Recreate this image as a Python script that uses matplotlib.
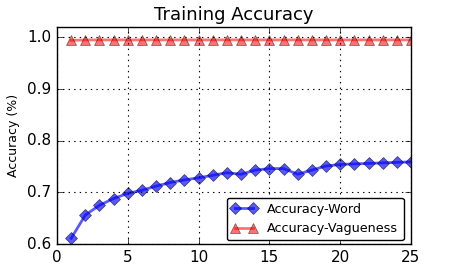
import matplotlib
matplotlib.use('Agg')
import matplotlib.pyplot as plt

epochs = list(range(1, 26))
acc_word = [0.611, 0.656, 0.675, 0.688, 0.698, 0.704, 0.712, 0.719, 0.724, 0.728,
            0.733, 0.738, 0.735, 0.743, 0.746, 0.746, 0.735, 0.743, 0.751, 0.754,
            0.755, 0.756, 0.757, 0.758, 0.759]
acc_vague = [0.994, 0.995, 0.995, 0.995, 0.995, 0.995, 0.995, 0.995, 0.995, 0.995,
             0.995, 0.995, 0.995, 0.995, 0.995, 0.995, 0.995, 0.995, 0.995, 0.995,
             0.995, 0.995, 0.995, 0.995, 0.995]

plt.style.use('classic')
fig = plt.figure(figsize=(4.57, 2.68), dpi=100, facecolor='white')
ax = fig.add_axes([57 / 457, 24 / 268, 354 / 457, 217 / 268])

ax.plot(epochs, acc_word, color='blue', marker='D', markersize=6.5, linewidth=2,
        alpha=0.65, label='Accuracy-Word')
ax.plot(epochs, acc_vague, color='red', marker='^', markersize=6.5, linewidth=2,
        alpha=0.55, label='Accuracy-Vagueness')

ax.set_xlim(0, 25)
ax.set_ylim(0.6, 1.02)
ax.set_xticks([0, 5, 10, 15, 20, 25])
ax.set_yticks([0.6, 0.7, 0.8, 0.9, 1.0])
ax.tick_params(labelsize=11)
ax.grid(True, linestyle=':', color='black', linewidth=0.8)
ax.set_ylabel('Accuracy (%)', fontsize=9)
ax.set_title('Training Accuracy', fontsize=13)
ax.legend(loc='lower right', fontsize=9.2, numpoints=2, fancybox=True,
          handlelength=2.0, borderaxespad=0.3, bbox_to_anchor=(0.99, 0.0))

fig.savefig('out.png', dpi=100, facecolor='white')
